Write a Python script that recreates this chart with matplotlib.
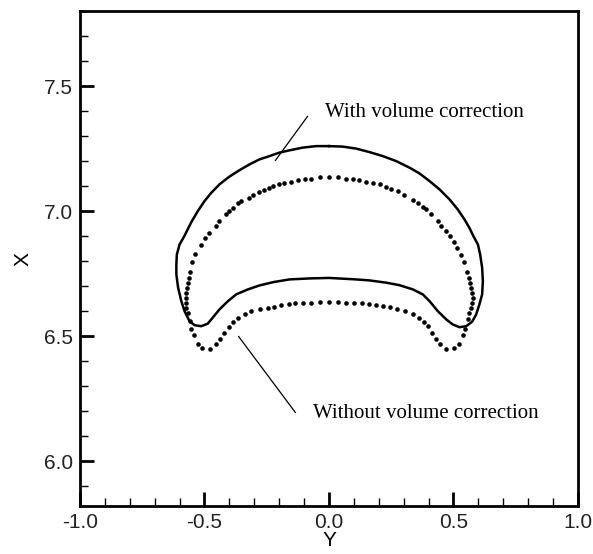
import numpy as np
import matplotlib.pyplot as plt
from matplotlib.ticker import MultipleLocator

# solid contour: with volume correction (Y horizontal, X vertical)
with_y = [0.0, -0.051, -0.105, -0.159, -0.199, -0.239, -0.279, -0.319, -0.359, -0.400,
          -0.440, -0.473, -0.500, -0.527, -0.554, -0.581, -0.600, -0.611, -0.613, -0.613,
          -0.606, -0.593, -0.580, -0.560, -0.540, -0.513, -0.487, -0.467, -0.440, -0.406,
          -0.373, -0.326, -0.279, -0.225, -0.159, -0.078, 0.0,
          0.055, 0.109, 0.163, 0.230, 0.283, 0.337, 0.377, 0.404, 0.437, 0.471,
          0.497, 0.524, 0.551, 0.575, 0.591, 0.604, 0.615, 0.618, 0.615, 0.607,
          0.598, 0.580, 0.564, 0.544, 0.517, 0.484, 0.444, 0.404, 0.363, 0.323,
          0.270, 0.216, 0.163, 0.109, 0.055, 0.0]
with_x = [7.260, 7.260, 7.254, 7.243, 7.234, 7.220, 7.207, 7.187, 7.164, 7.138,
          7.107, 7.073, 7.040, 7.000, 6.954, 6.900, 6.867, 6.827, 6.787, 6.747,
          6.694, 6.640, 6.600, 6.560, 6.544, 6.540, 6.550, 6.574, 6.607, 6.640,
          6.667, 6.687, 6.703, 6.716, 6.727, 6.731, 6.733,
          6.730, 6.727, 6.723, 6.714, 6.704, 6.687, 6.667, 6.640, 6.600, 6.567,
          6.547, 6.536, 6.540, 6.558, 6.587, 6.627, 6.667, 6.720, 6.774, 6.827,
          6.867, 6.900, 6.933, 6.967, 7.007, 7.047, 7.087, 7.120, 7.151, 7.174,
          7.200, 7.220, 7.236, 7.250, 7.258, 7.260]

# dotted contour: without volume correction
without_y = [0.0, -0.035, -0.071, -0.105, -0.135, -0.161, -0.192, -0.219, -0.246, -0.276,
             -0.312, -0.339, -0.366, -0.386, -0.402, -0.420, -0.437, -0.453, -0.477, -0.509,
             -0.527, -0.544, -0.553, -0.560, -0.567, -0.573, -0.576, -0.576, -0.573, -0.571,
             -0.567, -0.563, -0.557, -0.549, -0.537, -0.513, -0.496, -0.480, -0.453, -0.440,
             -0.413, -0.402, -0.386, -0.366, -0.353, -0.322, -0.306, -0.282, -0.263, -0.242,
             -0.223, -0.201, -0.179, -0.152, -0.125, -0.098, -0.071, -0.035, 0.0, 0.035,
             0.069, 0.096, 0.122, 0.149, 0.176, 0.203, 0.230, 0.250, 0.276, 0.303,
             0.337, 0.357, 0.377, 0.390, 0.410, 0.437, 0.451, 0.471, 0.487, 0.504,
             0.515, 0.532, 0.544, 0.553, 0.561, 0.567, 0.571, 0.575, 0.578, 0.575,
             0.571, 0.564, 0.557, 0.548, 0.537, 0.521, 0.504, 0.471, 0.447, 0.431,
             0.414, 0.397, 0.380, 0.361, 0.337, 0.307, 0.272, 0.243, 0.216, 0.190,
             0.160, 0.133, 0.102, 0.069, 0.035]
without_x = [6.636, 6.636, 6.634, 6.634, 6.631, 6.627, 6.623, 6.618, 6.614, 6.607,
             6.599, 6.587, 6.571, 6.556, 6.536, 6.514, 6.490, 6.467, 6.450, 6.454,
             6.470, 6.503, 6.527, 6.560, 6.594, 6.614, 6.634, 6.654, 6.674, 6.694,
             6.714, 6.734, 6.756, 6.796, 6.827, 6.863, 6.894, 6.914, 6.940, 6.960,
             6.987, 7.000, 7.014, 7.031, 7.040, 7.054, 7.064, 7.076, 7.083, 7.091,
             7.100, 7.107, 7.114, 7.118, 7.123, 7.127, 7.130, 7.136, 7.136, 7.136,
             7.130, 7.127, 7.123, 7.118, 7.114, 7.107, 7.098, 7.090, 7.079, 7.064,
             7.044, 7.031, 7.018, 7.007, 6.990, 6.960, 6.940, 6.920, 6.900, 6.876,
             6.854, 6.825, 6.796, 6.756, 6.734, 6.714, 6.694, 6.674, 6.654, 6.634,
             6.614, 6.594, 6.567, 6.527, 6.503, 6.470, 6.454, 6.450, 6.467, 6.487,
             6.514, 6.540, 6.556, 6.574, 6.587, 6.600, 6.610, 6.618, 6.620, 6.623,
             6.627, 6.631, 6.634, 6.634, 6.636]

fig = plt.figure(figsize=(5.93, 5.54), dpi=100)
ax = fig.add_axes([0.1349, 0.0861, 0.8398, 0.894])

ax.plot(with_y, with_x, color='black', lw=1.8, solid_joinstyle='round')
ax.plot(without_y, without_x, 'o', color='black', ms=3.3, mew=0)

# leader lines + labels
ax.plot([-0.086, -0.215], [7.379, 7.203], color='black', lw=0.9)
ax.plot([-0.363, -0.135], [6.499, 6.195], color='black', lw=0.9)
ax.text(-0.018, 7.395, 'With volume correction', family='Liberation Serif',
        fontsize=15, va='center', ha='left')
ax.text(-0.066, 6.191, 'Without volume correction', family='Liberation Serif',
        fontsize=15, va='center', ha='left')

ax.set_xlim(-1.0, 1.0)
ax.set_ylim(5.82, 7.80)
ax.xaxis.set_major_locator(MultipleLocator(0.5))
ax.xaxis.set_minor_locator(MultipleLocator(0.1))
ax.yaxis.set_major_locator(MultipleLocator(0.5))
ax.yaxis.set_minor_locator(MultipleLocator(0.1))
ax.xaxis.set_major_formatter(plt.FormatStrFormatter('%.1f'))
ax.yaxis.set_major_formatter(plt.FormatStrFormatter('%.1f'))

ax.tick_params(which='both', direction='in', top=False, right=False,
               labelsize=15, labelcolor='#222222', width=1.5, pad=5)
ax.tick_params(which='major', length=10, width=2)
ax.tick_params(which='minor', length=6, width=1.0)
for lab in ax.get_xticklabels() + ax.get_yticklabels():
    lab.set_family('Liberation Sans')

for s in ax.spines.values():
    s.set_linewidth(2)

ax.set_xlabel('Y', family='Liberation Sans', fontsize=15, labelpad=-1)
ax.set_ylabel('X', family='Liberation Sans', fontsize=15, labelpad=8)

plt.savefig('out.png', dpi=100)
